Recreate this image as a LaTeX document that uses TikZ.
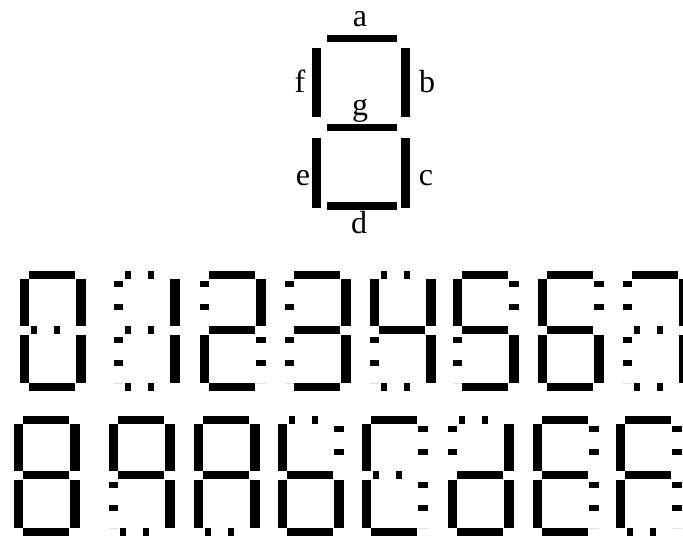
\documentclass[tikz,border=0pt]{standalone}
\usepackage{fontspec}
\setmainfont{Liberation Serif}
\newcommand{\sega}{[line width=8pt] (0,4) -- (46,4)}
\newcommand{\segg}{[line width=8pt] (0,59) -- (46,59)}
\newcommand{\segd}{[line width=8pt] (0,116) -- (46,116)}
\newcommand{\segf}{[line width=9.5pt] (-4.75,8) -- (-4.75,55)}
\newcommand{\segb}{[line width=9.5pt] (51.75,8) -- (51.75,55)}
\newcommand{\sege}{[line width=9.5pt] (-4.75,64) -- (-4.75,112)}
\newcommand{\segc}{[line width=9.5pt] (51.75,64) -- (51.75,112)}
\newcommand{\digit}[4]{%
  \begin{scope}[shift={(#1,#2)}]
    \foreach \s in {#3} {\expandafter\draw\expandafter[segon]\csname seg\s\endcsname;}
    \foreach \s in {#4} {\expandafter\draw\expandafter[segoff]\csname seg\s\endcsname;}
  \end{scope}}
\tikzset{
  segon/.style={line cap=butt},
  segoff/.style={line cap=butt, dash pattern=on 0pt off 2pt on 6pt off 15pt},
  lbl/.style={anchor=base, inner sep=0pt, font=\fontsize{32}{32}\selectfont}
}
\begin{document}
\begin{tikzpicture}[x=1pt, y=-1pt]
  \useasboundingbox (0,0) rectangle (683,541);
  \fill (327,35) rectangle (397,42);
  \fill (327,124) rectangle (397,131);
  \fill (327,202) rectangle (397,210);
  \fill (312,48) rectangle (321,117);
  \fill (401,48) rectangle (410,117);
  \fill (312,138) rectangle (321,208);
  \fill (401,138) rectangle (410,208);
  \node[lbl] (la) at (360,26) {a};
  \node[lbl] (lf) at (300,92) {f};
  \node[lbl] (lb) at (427,92) {b};
  \node[lbl] (lg) at (360,115) {g};
  \node[lbl] (le) at (303,185) {e};
  \node[lbl] (lc) at (426,185) {c};
  \node[lbl] (ld) at (359,233) {d};
  \digit{29}{271}{a,b,c,d,e,f}{g}
  \digit{123}{271}{b,c}{a,d,e,f,g}
  \digit{209}{271}{a,b,d,e,g}{c,f}
  \digit{294}{271}{a,b,c,d,g}{e,f}
  \digit{379}{271}{b,c,f,g}{a,d,e}
  \digit{462}{271}{a,c,d,f,g}{b,e}
  \digit{547}{271}{a,c,d,e,f,g}{b}
  \digit{632}{271}{a,b,c}{d,e,f,g}
  \digit{23}{416}{a,b,c,d,e,f,g}{}
  \digit{118}{416}{a,b,c,f,g}{d,e}
  \digit{203}{416}{a,b,c,e,f,g}{d}
  \digit{287}{416}{c,d,e,f,g}{a,b}
  \digit{371}{416}{a,d,e,f}{b,c,g}
  \digit{457}{416}{b,c,d,e,g}{a,f}
  \digit{542}{416}{a,d,e,f,g}{b,c}
  \digit{625}{416}{a,e,f,g}{b,c,d}
\end{tikzpicture}
\end{document}
